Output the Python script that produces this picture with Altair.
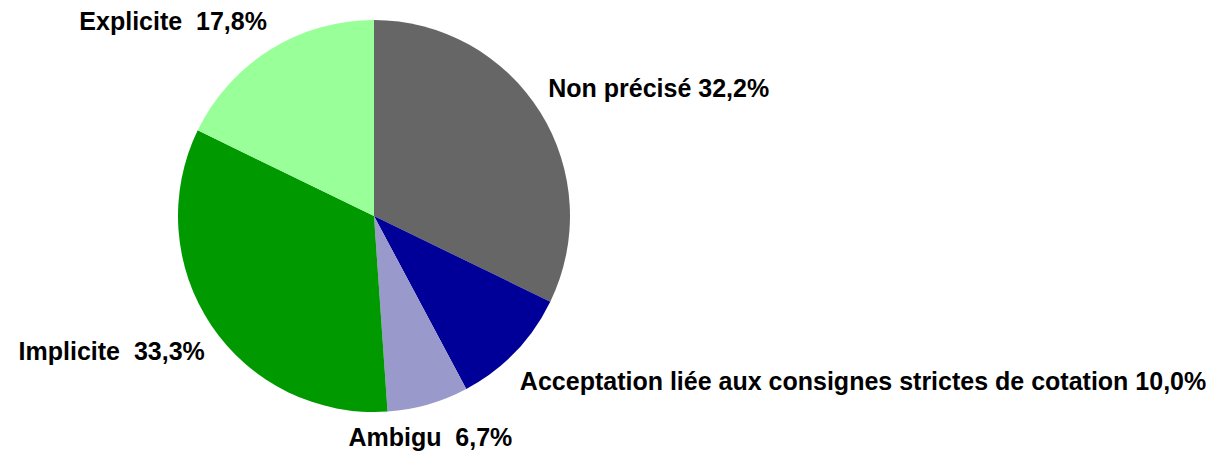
import altair as alt
import pandas as pd

categories = ["Non précisé", "Acceptation liée aux consignes strictes de cotation",
              "Ambigu", "Implicite", "Explicite"]
values = [32.2, 10.0, 6.7, 33.3, 17.8]
labels = ["Non précisé 32,2%",
          "Acceptation liée aux consignes strictes de cotation 10,0%",
          "Ambigu\u00a0 6,7%", "Implicite\u00a0 33,3%", "Explicite\u00a0 17,8%"]
colors = ["#666666", "#000099", "#9999CC", "#009900", "#99FF99"]
order = [0, 1, 2, 3, 4]

df = pd.DataFrame({"cat": categories, "value": values, "label": labels, "ord": order})

base = alt.Chart(df).encode(
    theta=alt.Theta("value:Q", stack=True),
    order=alt.Order("ord:Q"),
)

pie = base.mark_arc(outerRadius=196).encode(
    color=alt.Color("cat:N", scale=alt.Scale(domain=categories, range=colors), legend=None)
)

# (category, align, dx, dy)
label_cfg = [
    ("Non précisé", "left", -8, -13),
    ("Acceptation liée aux consignes strictes de cotation", "left", -9, 17),
    ("Ambigu", "center", -3, 15),
    ("Implicite", "right", 9, 16),
    ("Explicite", "right", 7, -12),
]

texts = []
for cat, align, dx, dy in label_cfg:
    t = base.transform_calculate(
        lbl=f"datum.cat === '{cat}' ? datum.label : ''"
    ).mark_text(
        radius=215, align=align, baseline="middle", dx=dx, dy=dy,
        font="Liberation Sans", fontSize=25, fontWeight="bold", color="black"
    ).encode(text="lbl:N")
    texts.append(t)

chart = alt.layer(pie, *texts).properties(
    width=732, height=412, padding=0
).configure_view(stroke=None)

chart.save("out.html", embed_options={"renderer": "svg", "actions": False})
